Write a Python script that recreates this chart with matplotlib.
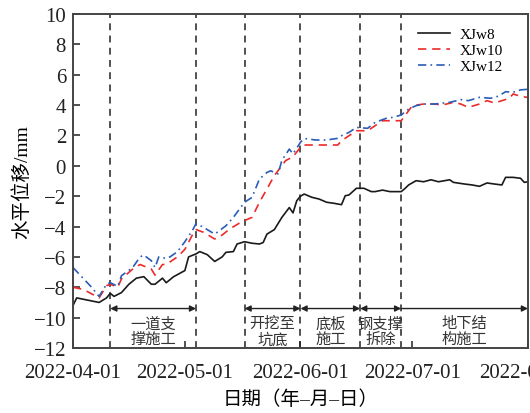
import numpy as np
import matplotlib
matplotlib.use('Agg')
import matplotlib.pyplot as plt
import matplotlib.dates as mdates

plt.rcParams['font.family'] = ['Liberation Serif', 'Noto Sans CJK SC']
plt.rcParams['axes.unicode_minus'] = True

START = np.datetime64('2022-04-01')

# days after 2022-04-01 and horizontal displacement (mm)
days_w8 = [0, 1, 3, 5, 7, 9, 10, 11, 13, 15, 17, 19, 21, 22, 24, 25, 27, 30, 31, 33,
           34, 36, 38, 40, 41, 43, 44, 46, 48, 50, 51, 52, 54, 56, 58, 59, 60, 61, 62,
           64, 66, 68, 70, 72, 73, 74, 76, 78, 80, 81, 83, 85, 88, 89, 90, 92, 94, 96,
           98, 101, 102, 105, 107, 109, 111, 113, 115, 116, 118, 120, 121, 122]
xjw8 = [-9.2, -8.7, -8.8, -8.9, -9.0, -8.7, -8.4, -8.6, -8.35, -7.8, -7.4, -7.3, -7.8,
        -7.8, -7.4, -7.7, -7.3, -6.9, -6.0, -5.8, -5.65, -5.85, -6.3, -6.0, -5.7, -5.65,
        -5.15, -5.0, -5.1, -5.15, -5.05, -4.5, -4.2, -3.4, -2.75, -3.1, -2.3, -2.0, -1.86,
        -2.07, -2.19, -2.4, -2.47, -2.56, -1.97, -1.92, -1.48, -1.48, -1.7, -1.7, -1.6,
        -1.7, -1.7, -1.5, -1.26, -0.98, -1.05, -0.92, -1.05, -0.92, -1.09, -1.2, -1.26,
        -1.35, -1.13, -1.2, -1.26, -0.76, -0.76, -0.82, -1.09, -1.05]

days_w10 = [0, 2, 4, 7, 9, 10, 12, 13, 16, 18, 21, 22, 24, 25, 28, 30, 32, 33, 35, 38,
            40, 42, 45, 47, 48, 50, 52, 54, 57, 59, 61, 62, 65, 68, 71, 72, 74, 76, 79,
            81, 83, 85, 88, 89, 91, 94, 97, 99, 102, 104, 106, 109, 111, 113, 115, 117,
            118, 120, 122]
xjw10 = [-8.0, -8.1, -8.3, -8.7, -7.9, -7.8, -8.0, -7.45, -6.8, -6.5, -6.8, -7.2, -6.5,
         -6.5, -6.0, -5.5, -4.56, -4.2, -4.38, -4.82, -4.56, -4.16, -3.72, -3.5, -3.4,
         -2.4, -1.53, -0.64, 0.34, 0.6, 1.22, 1.37, 1.37, 1.37, 1.37, 1.65, 1.98, 2.31,
         2.31, 2.64, 2.97, 2.97, 2.97, 3.3, 3.96, 4.07, 4.07, 4.0, 4.18, 4.07, 3.85, 4.07,
         4.29, 4.14, 4.29, 4.45, 4.73, 4.58, 4.5]

days_w12 = [0, 5, 7, 9, 10, 12, 13, 16, 18, 19, 21, 22, 23, 25, 26, 28, 30, 32, 33, 35,
            38, 41, 43, 46, 48, 50, 52, 53, 55, 56, 58, 59, 61, 62, 65, 68, 71, 72, 74,
            76, 79, 81, 84, 86, 88, 90, 92, 94, 97, 101, 104, 106, 109, 112, 114, 116,
            118, 120, 122]
xjw12 = [-6.7, -8.0, -8.6, -7.8, -7.7, -7.94, -7.24, -6.7, -6.0, -5.88, -6.25, -6.7,
         -6.0, -6.1, -6.0, -5.66, -5.0, -4.27, -3.8, -4.05, -4.5, -3.95, -3.4, -2.4,
         -2.08, -0.87, -0.44, -0.33, -0.53, 0.35, 1.1, 0.79, 1.55, 1.8, 1.7, 1.7, 1.81,
         1.98, 2.2, 2.53, 2.47, 2.86, 3.13, 3.2, 3.35, 3.74, 3.96, 4.07, 4.07, 4.18, 4.36,
         4.29, 4.51, 4.45, 4.58, 4.88, 4.84, 5.0, 5.04]

stage_dates = ['2022-04-11', '2022-05-04', '2022-05-17', '2022-06-01', '2022-06-17', '2022-06-28']
stage_ranges = [(0, 1), (2, 3), (3, 4), (4, 5), (5, None)]
stage_labels = ['一道支\n撑施工', '开挖至\n坑底', '底板\n施工', '钢支撑\n拆除', '地下结\n构施工']

x_start, x_end = '2022-04-01', '2022-08-01'
ticks = ['2022-04-01', '2022-05-01', '2022-06-01', '2022-07-01', '2022-08-01']


def to_dates(days):
    return START + np.array(days).astype('timedelta64[D]')


def main():
    fig = plt.figure(figsize=(5.3, 4.14), dpi=100)
    ax = fig.add_axes([0.1377, 0.157, 0.8585, 0.8068])

    ax.plot(to_dates(days_w8), xjw8, color='#1a1a1a', lw=1.2, label='XJw8')
    ax.plot(to_dates(days_w10), xjw10, color='#ee2a2a', lw=1.2, ls=(0, (5, 3.5)), label='XJw10')
    ax.plot(to_dates(days_w12), xjw12, color='#2a5cb8', lw=1.2, ls=(0, (5, 2.5, 1, 2.5)),
            label='XJw12')

    xmin, xmax = np.datetime64(x_start), np.datetime64(x_end)
    ax.set_xlim(xmin, xmax)
    ax.set_ylim(-12, 10)

    lines = [np.datetime64(d) for d in stage_dates]
    for d in lines:
        ax.axvline(d, color='#222222', lw=1.1, ls=(0, (4.5, 3.5)), zorder=1)

    arrow_y = -9.4
    for (i, j), lab in zip(stage_ranges, stage_labels):
        a = lines[i]
        b = lines[j] if j is not None else xmax
        style = '<|-|>' if j is not None else '<|-'
        ax.annotate('', xy=(mdates.date2num(a), arrow_y), xytext=(mdates.date2num(b), arrow_y),
                    arrowprops=dict(arrowstyle=style, color='#222222', lw=1.0,
                                    mutation_scale=9, shrinkA=0, shrinkB=0))
        mid = mdates.date2num(a) + (mdates.date2num(b) - mdates.date2num(a)) / 2
        ax.text(mid, -10.9, lab, ha='center', va='center', fontsize=11,
                color='#333333', linespacing=1.15)

    ax.set_xticks([np.datetime64(t) for t in ticks])
    ax.xaxis.set_major_formatter(mdates.DateFormatter('%Y-%m-%d'))
    ax.set_yticks(np.arange(-12, 11, 2))
    ax.tick_params(direction='in', length=5, width=1.1, labelsize=15, colors='#222222')
    ax.tick_params(axis='x', pad=11)
    ax.tick_params(axis='y', pad=5)
    for s in ax.spines.values():
        s.set_linewidth(1.4)
        s.set_color('#444444')

    ax.set_ylabel('水平位移/mm', fontsize=14, labelpad=2)
    ax.set_xlabel('日期（年–月–日）', fontsize=14, labelpad=5)

    ax.legend(loc='upper right', bbox_to_anchor=(0.975, 1.0), frameon=False, fontsize=11,
              handlelength=2.1, labelspacing=0.15, handletextpad=0.6)

    fig.savefig('out.png', dpi=100)


if __name__ == '__main__':
    main()
